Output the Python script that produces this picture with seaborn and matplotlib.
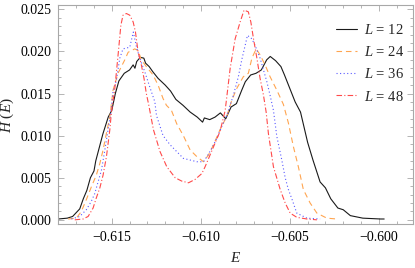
import numpy as np
import pandas as pd
import matplotlib
matplotlib.use("Agg")
import matplotlib.pyplot as plt
from matplotlib.ticker import MultipleLocator, FuncFormatter
import seaborn as sns

sns.set_theme(style="ticks")
plt.rcParams["font.family"] = ["Liberation Serif", "DejaVu Serif"]
plt.rcParams["mathtext.fontset"] = "custom"
plt.rcParams["mathtext.it"] = "Liberation Serif:italic"
plt.rcParams["mathtext.rm"] = "Liberation Serif"

# L = 12
e12 = [-0.6180, -0.6175, -0.6172, -0.6168, -0.6166, -0.6164, -0.6162, -0.6160, -0.6159,
       -0.6157, -0.6155, -0.6152, -0.6150, -0.6148, -0.6146, -0.6143, -0.6140, -0.6138,
       -0.6137, -0.6136, -0.6134, -0.6132, -0.6131, -0.6129, -0.6127, -0.6124, -0.6120,
       -0.6117, -0.6114, -0.6110, -0.6106, -0.6102, -0.6099, -0.6098, -0.6095, -0.6092,
       -0.6089, -0.6086, -0.6083, -0.6080, -0.6077, -0.6075, -0.6072, -0.6069, -0.6066,
       -0.6063, -0.6061, -0.6058, -0.6055, -0.6053, -0.6050, -0.6047, -0.6044, -0.6040,
       -0.6037, -0.6033, -0.6030, -0.6027, -0.6023, -0.6020, -0.6016, -0.6009, -0.5999,
       -0.5997]
h12 = [0.0001, 0.0002, 0.0004, 0.0013, 0.0025, 0.0035, 0.0050, 0.0058, 0.0070,
       0.0086, 0.0102, 0.0122, 0.0130, 0.0150, 0.0165, 0.0174, 0.0178, 0.0184,
       0.0180, 0.0188, 0.0193, 0.0192, 0.0186, 0.0182, 0.0176, 0.0168, 0.0160,
       0.0153, 0.0143, 0.0136, 0.0128, 0.0122, 0.0116, 0.0121, 0.0119, 0.0122,
       0.0127, 0.0120, 0.0134, 0.0138, 0.0154, 0.0164, 0.0172, 0.0174, 0.0178,
       0.0190, 0.0194, 0.0189, 0.0182, 0.0172, 0.0156, 0.0140, 0.0128, 0.0092,
       0.0071, 0.0045, 0.0038, 0.0025, 0.0014, 0.0012, 0.0005, 0.0002, 0.0001,
       0.0001]

# L = 24
e24 = [-0.61745, -0.61699, -0.61671, -0.61643, -0.61615, -0.61587, -0.61567, -0.61549,
       -0.61530, -0.61511, -0.61493, -0.61465, -0.61427, -0.61408, -0.61371, -0.61352,
       -0.61334, -0.61306, -0.61268, -0.61240, -0.61212, -0.61193, -0.61165, -0.61135,
       -0.61098, -0.61060, -0.61022, -0.60985, -0.60957, -0.60929, -0.60892, -0.60854,
       -0.60826, -0.60798, -0.60761, -0.60733, -0.60713, -0.60689, -0.60667, -0.60639,
       -0.60611, -0.60573, -0.60536, -0.60508, -0.60480, -0.60452, -0.60424, -0.60386,
       -0.60348, -0.60292, -0.60236]
h24 = [0.0001, 0.0002, 0.0010, 0.0024, 0.0039, 0.0053, 0.0067, 0.0083,
       0.0103, 0.0122, 0.0154, 0.0174, 0.0190, 0.0199, 0.0203, 0.0201,
       0.0190, 0.0182, 0.0172, 0.0160, 0.0144, 0.0136, 0.0130, 0.0114,
       0.0100, 0.0083, 0.0075, 0.0069, 0.0077, 0.0089, 0.0107, 0.0123,
       0.0142, 0.0156, 0.0170, 0.0174, 0.0192, 0.0203, 0.0196, 0.0184,
       0.0170, 0.0154, 0.0137, 0.0115, 0.0087, 0.0063, 0.0036, 0.0020,
       0.0008, 0.0002, 0.0001]

# L = 36
e36 = [-0.61727, -0.61680, -0.61643, -0.61615, -0.61596, -0.61577, -0.61558, -0.61539,
       -0.61521, -0.61506, -0.61493, -0.61474, -0.61455, -0.61437, -0.61399, -0.61379,
       -0.61361, -0.61343, -0.61315, -0.61287, -0.61258, -0.61249, -0.61212, -0.61172,
       -0.61135, -0.61098, -0.61060, -0.61022, -0.60985, -0.60966, -0.60938, -0.60910,
       -0.60882, -0.60854, -0.60817, -0.60789, -0.60770, -0.60751, -0.60738, -0.60713,
       -0.60695, -0.60667, -0.60648, -0.60629, -0.60611, -0.60592, -0.60573, -0.60545,
       -0.60526, -0.60508, -0.60487, -0.60461, -0.60404, -0.60330]
h36 = [0.0001, 0.0004, 0.0012, 0.0022, 0.0031, 0.0045, 0.0059, 0.0083,
       0.0107, 0.0126, 0.0152, 0.0166, 0.0192, 0.0203, 0.0205, 0.0223,
       0.0205, 0.0192, 0.0176, 0.0158, 0.0140, 0.0124, 0.0100, 0.0089,
       0.0081, 0.0073, 0.0071, 0.0069, 0.0069, 0.0075, 0.0085, 0.0097,
       0.0111, 0.0124, 0.0148, 0.0170, 0.0190, 0.0207, 0.0219, 0.0215,
       0.0207, 0.0192, 0.0178, 0.0164, 0.0148, 0.0130, 0.0099, 0.0071,
       0.0050, 0.0036, 0.0024, 0.0008, 0.0002, 0.0001]

# L = 48
e48 = [-0.61708, -0.61661, -0.61633, -0.61605, -0.61587, -0.61567, -0.61549, -0.61530,
       -0.61511, -0.61502, -0.61483, -0.61465, -0.61449, -0.61437, -0.61418, -0.61399,
       -0.61380, -0.61367, -0.61352, -0.61334, -0.61319, -0.61306, -0.61292, -0.61266,
       -0.61229, -0.61191, -0.61144, -0.61107, -0.61069, -0.61032, -0.60994, -0.60976,
       -0.60948, -0.60920, -0.60892, -0.60863, -0.60849, -0.60835, -0.60807, -0.60779,
       -0.60757, -0.60733, -0.60719, -0.60704, -0.60685, -0.60667, -0.60648, -0.60633,
       -0.60620, -0.60592, -0.60554, -0.60526, -0.60498, -0.60461, -0.60404, -0.60348]
h48 = [0.0000, 0.0001, 0.0004, 0.0014, 0.0026, 0.0038, 0.0053, 0.0075,
       0.0107, 0.0128, 0.0156, 0.0195, 0.0231, 0.0243, 0.0245, 0.0243,
       0.0235, 0.0223, 0.0199, 0.0184, 0.0168, 0.0150, 0.0136, 0.0107,
       0.0081, 0.0063, 0.0050, 0.0046, 0.0044, 0.0048, 0.0055, 0.0063,
       0.0077, 0.0091, 0.0105, 0.0130, 0.0155, 0.0180, 0.0215, 0.0235,
       0.0249, 0.0247, 0.0235, 0.0215, 0.0192, 0.0168, 0.0148, 0.0128,
       0.0102, 0.0063, 0.0036, 0.0020, 0.0008, 0.0003, 0.0001, 0.0000]

series = [
    ("$L$ = $12$", e12, h12, "#1a1a1a", "-"),
    ("$L$ = $24$", e24, h24, "#ffa550", (0, (5, 3.5))),
    ("$L$ = $36$", e36, h36, "#5a5aff", (0, (1, 2.2))),
    ("$L$ = $48$", e48, h48, "#ff4a4a", (0, (5, 2, 1, 2))),
]

fig = plt.figure(figsize=(4.15, 2.68), dpi=100)
ax = fig.add_axes([0.1398, 0.164, 0.855, 0.817])

for label, e, h, col, ls in series:
    sns.lineplot(x=e, y=h, ax=ax, color=col, linestyle=ls, linewidth=0.8,
                 label=label, sort=False)

ax.set_xlim(-0.61802, -0.59809)
ax.set_ylim(-0.0005, 0.0255)
ax.xaxis.set_major_locator(MultipleLocator(0.005))
ax.xaxis.set_minor_locator(MultipleLocator(0.001))
ax.yaxis.set_major_locator(MultipleLocator(0.005))
ax.yaxis.set_minor_locator(MultipleLocator(0.001))
fmt = FuncFormatter(lambda v, p: f"{v:.3f}".replace("-", "\u2212"))
ax.xaxis.set_major_formatter(fmt)
ax.yaxis.set_major_formatter(fmt)

for s in ax.spines.values():
    s.set_color("#a8a8a8")
    s.set_linewidth(0.8)
    s.set_visible(True)
ax.tick_params(which="both", direction="in", top=True, right=True,
               color="#a8a8a8", labelsize=10, labelcolor="black", width=0.6)
ax.tick_params(which="major", length=4, pad=5)
ax.tick_params(which="minor", length=2)

ax.set_xlabel("$E$", fontsize=11, labelpad=5)
ax.set_ylabel("$H$ $(E)$", fontsize=11, labelpad=3)

# legend placed by its top-left corner, no padding
leg = ax.legend(loc="upper left", bbox_to_anchor=(0.783, 0.918), frameon=False,
                fontsize=10.5, handlelength=1.45, labelspacing=0.56,
                handletextpad=0.5, borderpad=0, borderaxespad=0)

fig.savefig("out.png", dpi=100)
